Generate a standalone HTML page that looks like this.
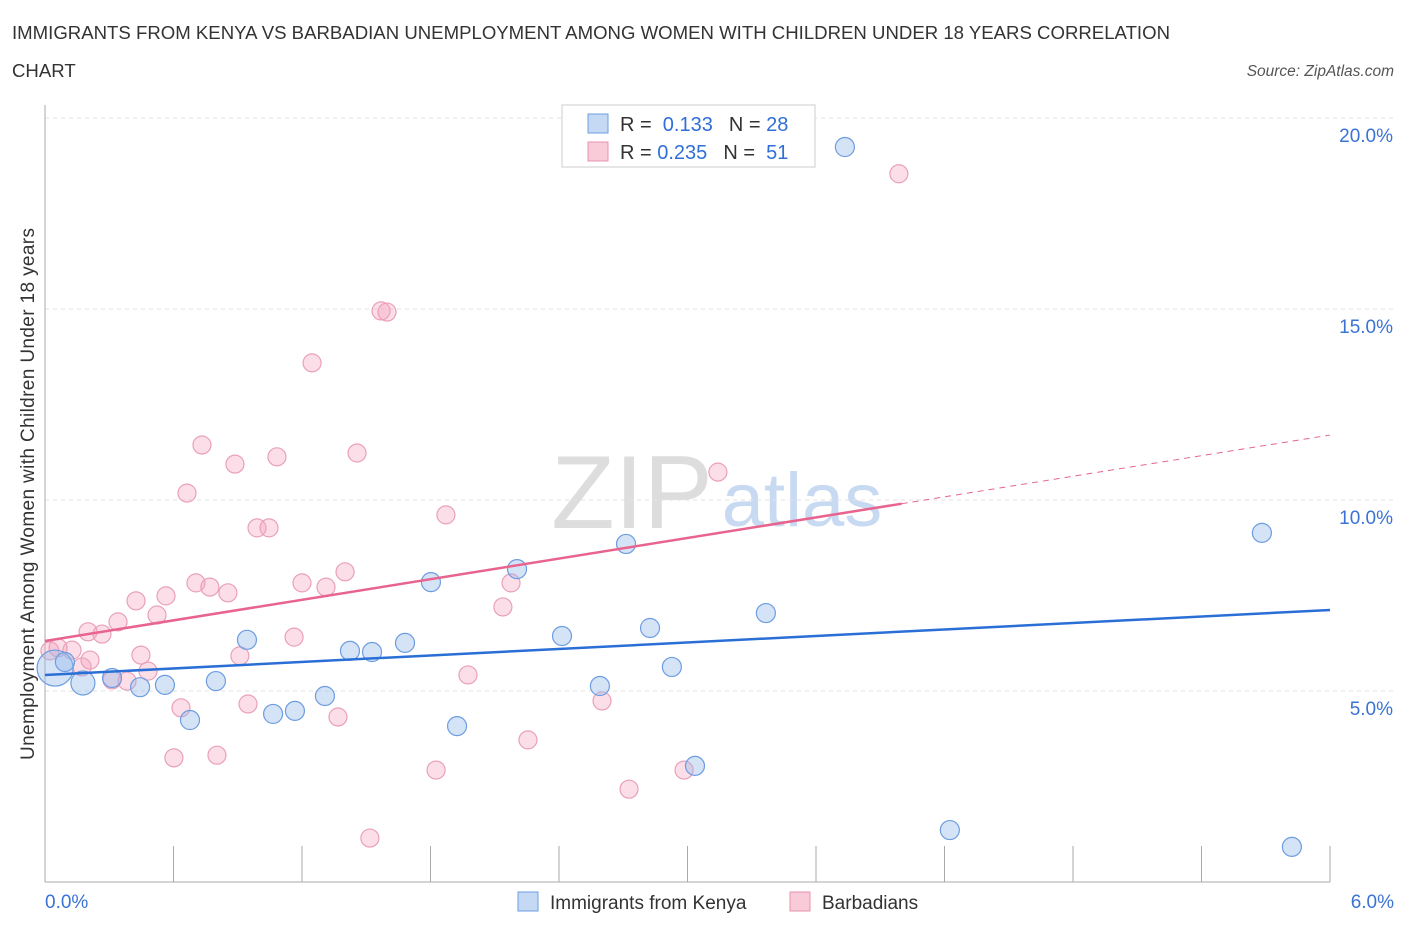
<!DOCTYPE html>
<html><head><meta charset="utf-8"><style>
body{margin:0;background:#fff;font-family:"Liberation Sans",sans-serif;}
svg text{font-family:"Liberation Sans",sans-serif;}
</style></head><body>
<svg width="1406" height="930">
<text x="12" y="39" font-size="18.6" fill="#333" textLength="1158">IMMIGRANTS FROM KENYA VS BARBADIAN UNEMPLOYMENT AMONG WOMEN WITH CHILDREN UNDER 18 YEARS CORRELATION</text>
<text x="12" y="77" font-size="18.6" fill="#333">CHART</text>
<text x="1394" y="76" font-size="15.5" fill="#555" font-style="italic" text-anchor="end">Source: ZipAtlas.com</text>
<text x="34" y="494" font-size="19" fill="#333" text-anchor="middle" textLength="532" transform="rotate(-90 34 494)">Unemployment Among Women with Children Under 18 years</text>
<g><text x="632" y="528" font-size="104" fill="#ddd" font-family="Liberation Serif,serif" text-anchor="middle">ZIP</text><text x="802" y="526" font-size="76" fill="#c8daf2" text-anchor="middle">atlas</text></g>
<g id="grid"></g><g id="marks"></g>
<g>
<rect x="562" y="105" width="253" height="62" fill="#fff" stroke="#ccc"/>
<rect x="588" y="114" width="20" height="19" fill="#c5d9f5" stroke="#6d9de0"/>
<rect x="588" y="142" width="20" height="19" fill="#f9cad8" stroke="#e892ae"/>
<text x="620" y="131" font-size="20" fill="#333">R = <tspan fill="#2f6fd6">&#160;0.133</tspan><tspan dx="16">N = </tspan><tspan fill="#2f6fd6">28</tspan></text>
<text x="620" y="159" font-size="20" fill="#333">R = <tspan fill="#2f6fd6">0.235</tspan><tspan dx="16">N = </tspan><tspan fill="#2f6fd6">&#160;51</tspan></text>
</g>
<g>
<rect x="518" y="892" width="20" height="19" fill="#c5d9f5" stroke="#6d9de0"/>
<text x="550" y="909" font-size="19" fill="#333">Immigrants from Kenya</text>
<rect x="790" y="892" width="20" height="19" fill="#f9cad8" stroke="#e892ae"/>
<text x="822" y="909" font-size="19" fill="#333">Barbadians</text>
</g>
</svg>
<script>
const blueX=[0.047,0.093,0.177,0.313,0.444,0.560,0.677,0.798,0.943,1.065,1.167,1.307,1.424,1.527,1.681,1.924,1.802,2.204,2.414,2.591,2.713,2.825,2.927,3.035,3.366,3.735,4.225,5.682,5.822];
const blueY=[5.60,5.76,5.21,5.34,5.10,5.16,4.24,5.26,6.34,4.40,4.48,4.87,6.05,6.02,6.26,4.08,7.85,8.19,6.44,5.13,8.85,6.65,5.63,3.04,7.04,19.24,1.36,9.14,0.92];
const blueR=[18,9.5,12,9.5,9.5,9.5,9.5,9.5,9.5,9.5,9.5,9.5,9.5,9.5,9.5,9.5,9.5,9.5,9.5,9.5,9.5,9.5,9.5,9.5,9.5,9.5,9.5,9.5,9.5];
const pinkX=[0.023,0.061,0.126,0.173,0.210,0.201,0.266,0.313,0.341,0.383,0.425,0.448,0.481,0.523,0.565,0.602,0.635,0.663,0.705,0.733,0.770,0.803,0.854,0.887,0.910,0.948,0.990,1.046,1.083,1.163,1.200,1.247,1.312,1.368,1.401,1.457,1.517,1.569,1.597,1.826,1.872,1.975,2.138,2.176,2.255,2.601,2.727,2.984,3.142,3.987];
const pinkY=[6.05,6.13,6.07,5.63,5.81,6.55,6.49,5.29,6.81,5.26,7.36,5.94,5.52,6.99,7.49,3.25,4.56,10.18,7.83,11.44,7.72,3.32,7.57,10.94,5.92,4.66,9.27,9.27,11.13,6.41,7.83,13.59,7.72,4.32,8.12,11.23,1.15,14.95,14.92,2.93,9.61,5.42,7.20,7.83,3.72,4.74,2.43,2.93,10.73,18.54];
const blueTrend=[5.42,7.12];
const pinkTrend=[6.31,11.70];
const pinkSolidEnd=4.0;
const yTicks=[5,10,15,20];
const xTickLabels=["0.0%","6.0%"];
const NS="http://www.w3.org/2000/svg";
const X=v=>45+v/6*1285, Y=v=>882-v/5*191;
function mk(t,a,p){const e=document.createElementNS(NS,t);for(const k in a)e.setAttribute(k,a[k]);p.appendChild(e);return e;}
const g=document.getElementById('grid'),m=document.getElementById('marks');
yTicks.forEach(t=>{
 const l=mk('line',{x1:45,x2:1394,y1:Y(t),y2:Y(t),stroke:'#e2e2e2','stroke-dasharray':'4 4'},g);
 
 
 const tx=mk('text',{x:1393,y:Y(t)+24,'font-size':19,fill:'#3a73d4','text-anchor':'end'},g);
 tx.textContent=t.toFixed(1)+'%';
 
 
});
const ax=mk('line',{x1:45,x2:45,y1:105,y2:882,stroke:'#aaa'},g);


const bx=mk('line',{x1:45,x2:1330,y1:882,y2:882,stroke:'#aaa'},g);


for(let i=0;i<=10;i++){const t=mk('line',{x1:X(i*0.6),x2:X(i*0.6),y1:846,y2:882,stroke:'#aaa'},g);
 
 }
[[0,'start',45],[1,'end',1394]].forEach(([i,a,x])=>{const t=mk('text',{x:x,y:908,'font-size':19,fill:'#3a73d4','text-anchor':a},g);t.textContent=xTickLabels[i];
 
 });
pinkX.forEach((v,i)=>{const c=mk('circle',{cx:X(v),cy:Y(pinkY[i]),r:9,fill:'rgba(244,160,188,0.35)',stroke:'#eaa0b8','stroke-width':1.2},m);
 
 });
blueX.forEach((v,i)=>{const c=mk('circle',{cx:X(v),cy:Y(blueY[i]),r:blueR[i],fill:'rgba(150,185,235,0.4)',stroke:'#6d9de0','stroke-width':1.2},m);
 
 });
const pk=v=>pinkTrend[0]+(pinkTrend[1]-pinkTrend[0])*v/6;
let l=mk('line',{x1:X(0),y1:Y(blueTrend[0]),x2:X(6),y2:Y(blueTrend[1]),stroke:'#2a6fd6','stroke-width':2.5},m);


l=mk('line',{x1:X(0),y1:Y(pk(0)),x2:X(pinkSolidEnd),y2:Y(pk(pinkSolidEnd)),stroke:'#e8648e','stroke-width':2.5},m);


l=mk('line',{x1:X(pinkSolidEnd),y1:Y(pk(pinkSolidEnd)),x2:X(6),y2:Y(pk(6)),stroke:'#e8648e','stroke-width':1,'stroke-dasharray':'6 5'},m);


</script>
</body></html>
